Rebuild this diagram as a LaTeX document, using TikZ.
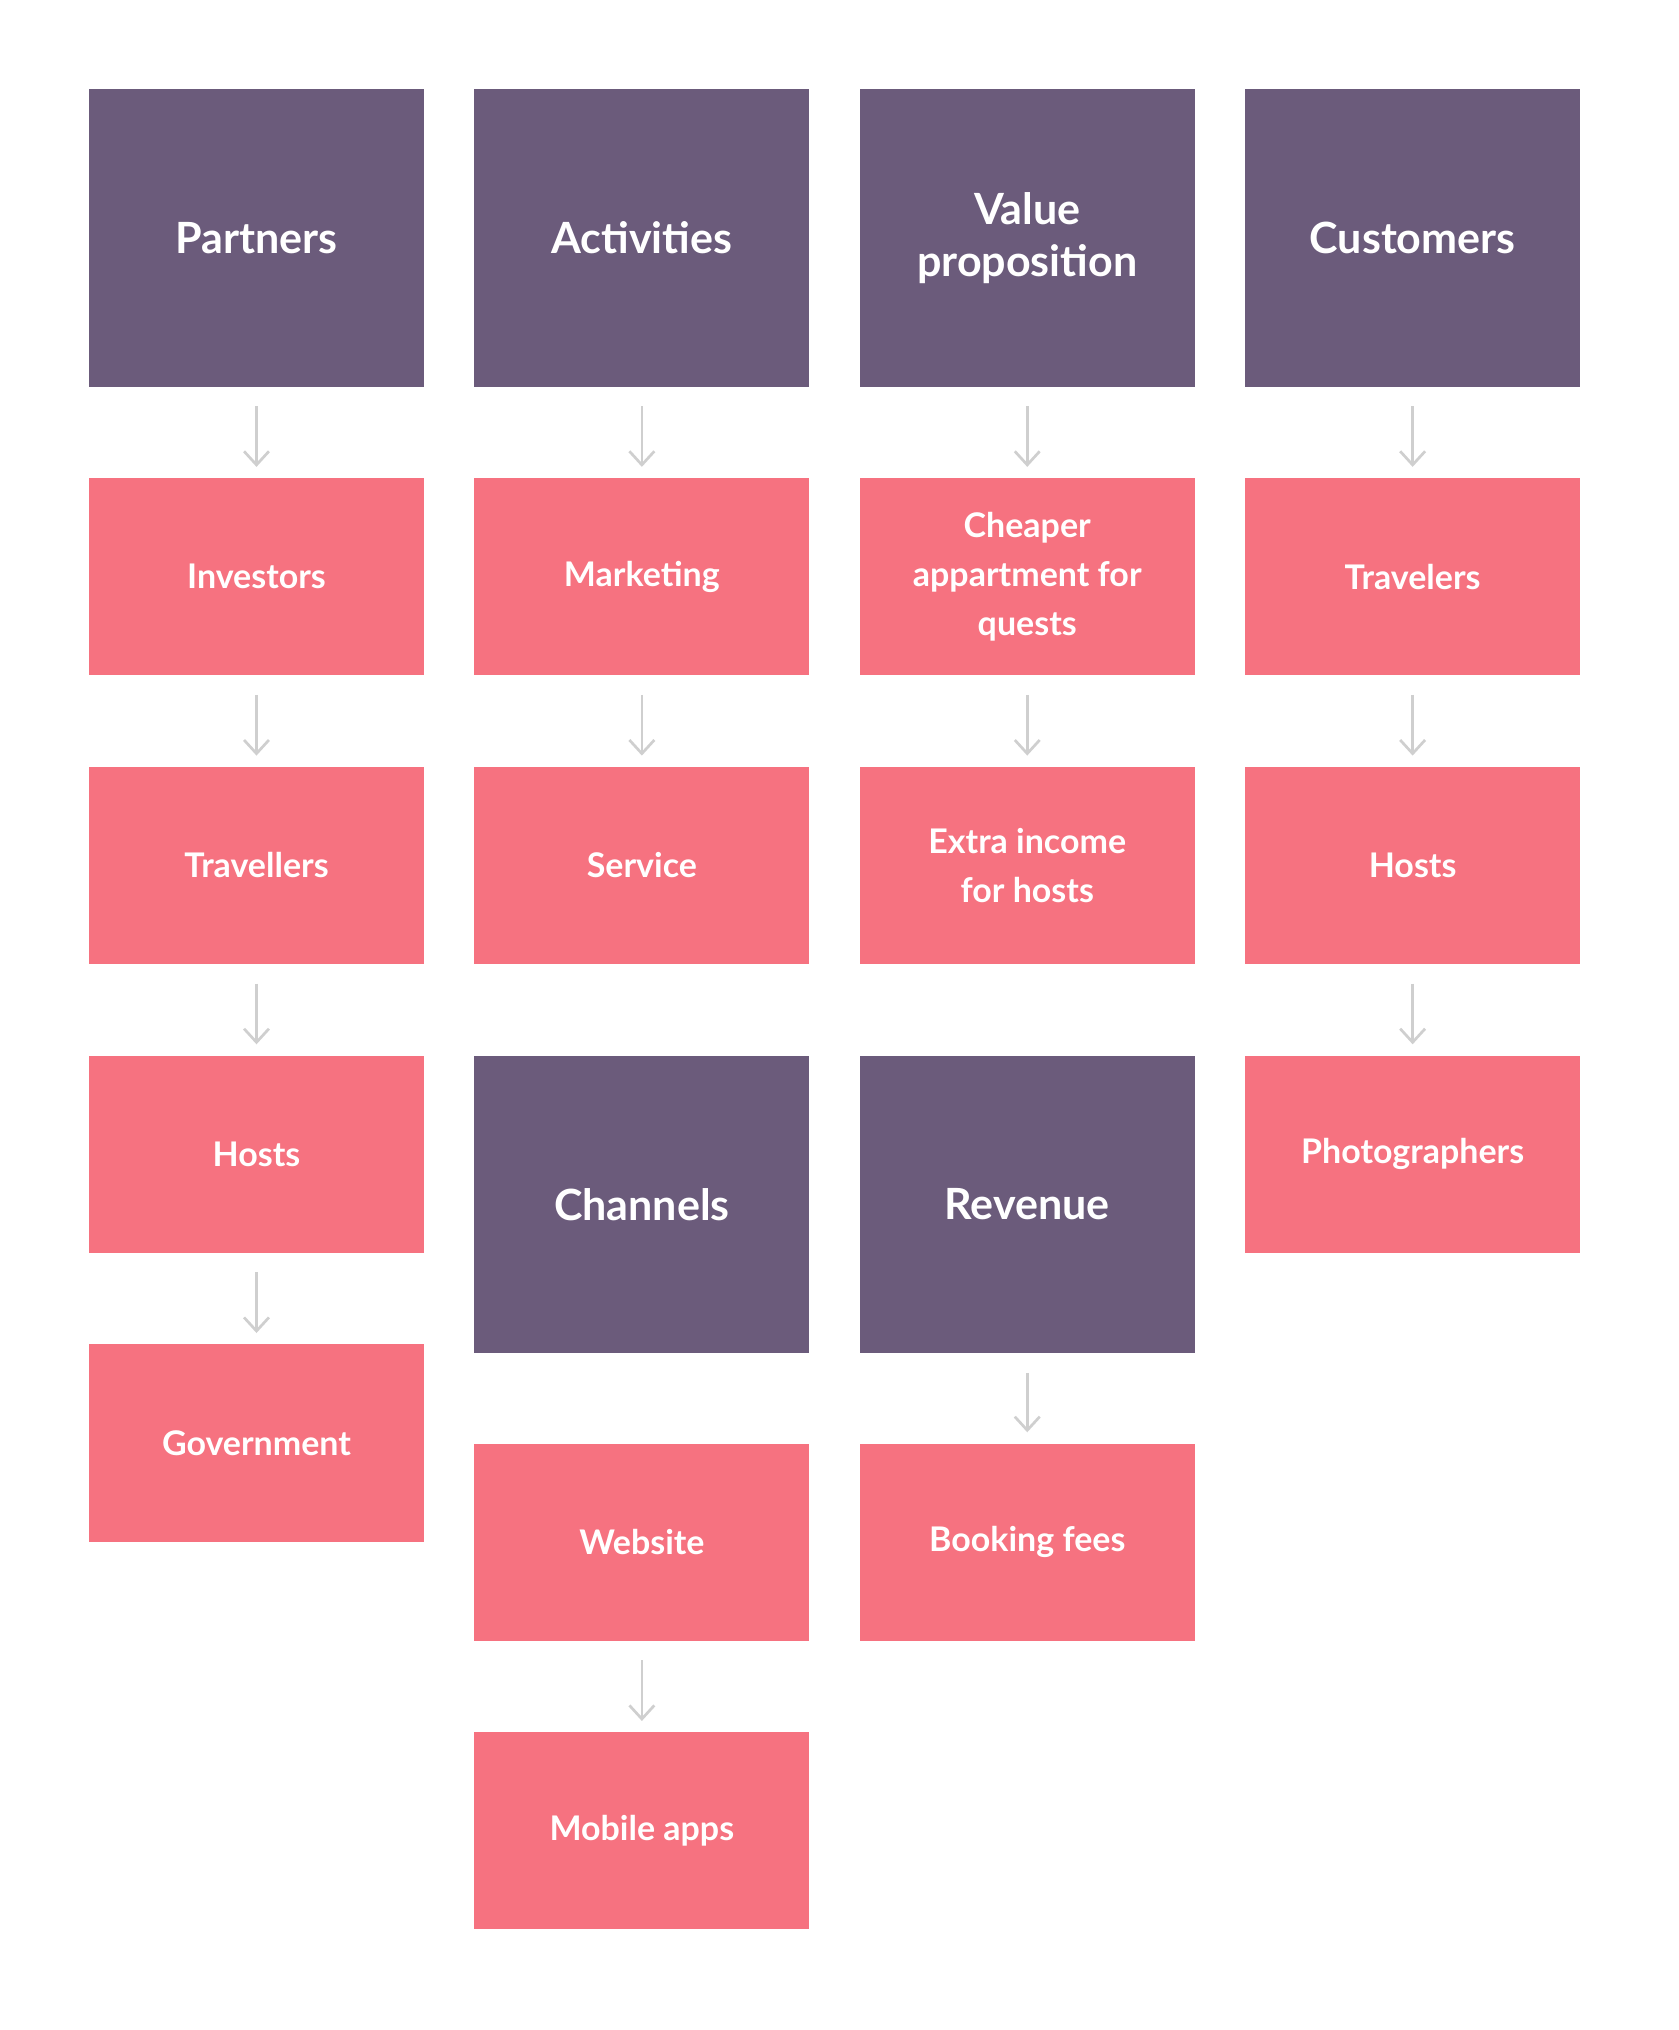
\documentclass[tikz,border=0pt]{standalone}
\usepackage{fontspec}
\setmainfont{Lato}
\usetikzlibrary{arrows.meta}
\definecolor{hdr}{HTML}{6B5B7B}
\definecolor{pk}{HTML}{F67280}
\definecolor{arr}{HTML}{CFCFCF}
\begin{document}
\begin{tikzpicture}[x=0.02cm,y=-0.02cm,
  box/.style={minimum width=5.2cm,inner sep=0pt,text=white,align=center,font=\bfseries},
  hbox/.style={box,fill=hdr,minimum height=4.62cm,font=\bfseries\fontsize{19}{23}\selectfont},
  pbox/.style={box,fill=pk,minimum height=3.06cm,font=\bfseries\fontsize{15}{21.5}\selectfont},
  conn/.style={draw=arr,line width=1.2pt,-{Straight Barb[length=6pt,width=11pt,line width=1.2pt]},shorten <=7\pgflinewidth,shorten >=4\pgflinewidth}]
\useasboundingbox (0,0) rectangle (1302,1575);
\node[hbox] (p) at (199,184.5) {Partners};
\node[hbox] (a) at (498,184.5) {Activities};
\node[hbox] (v) at (797,184.5) {Value\\proposition};
\node[hbox] (c) at (1096,184.5) {Customers};
\node[pbox] (p1) at (199,447.5) {Investors};
\node[pbox] (p2) at (199,671.5) {Travellers};
\node[pbox] (p3) at (199,895.5) {Hosts};
\node[pbox] (p4) at (199,1119.5) {Government};
\node[pbox] (a1) at (498,447.5) {Marketing};
\node[pbox] (a2) at (498,671.5) {Service};
\node[pbox] (v1) at (797,447.5) {Cheaper\\appartment for\\quests};
\node[pbox] (v2) at (797,671.5) {Extra income\\for hosts};
\node[pbox] (c1) at (1096,447.5) {Travelers};
\node[pbox] (c2) at (1096,671.5) {Hosts};
\node[pbox] (c3) at (1096,895.5) {Photographers};
\node[hbox] (ch) at (498,934.5) {Channels};
\node[hbox] (r) at (797,934.5) {Revenue};
\node[pbox] (ch1) at (498,1196.5) {Website};
\node[pbox] (ch2) at (498,1420.5) {Mobile apps};
\node[pbox] (r1) at (797,1196.5) {Booking fees};
\foreach \s/\t in {p/p1,p1/p2,p2/p3,p3/p4,a/a1,a1/a2,v/v1,v1/v2,c/c1,c1/c2,c2/c3,r/r1,ch1/ch2}
  \draw[conn] (\s.south) -- (\t.north);
\end{tikzpicture}
\end{document}
